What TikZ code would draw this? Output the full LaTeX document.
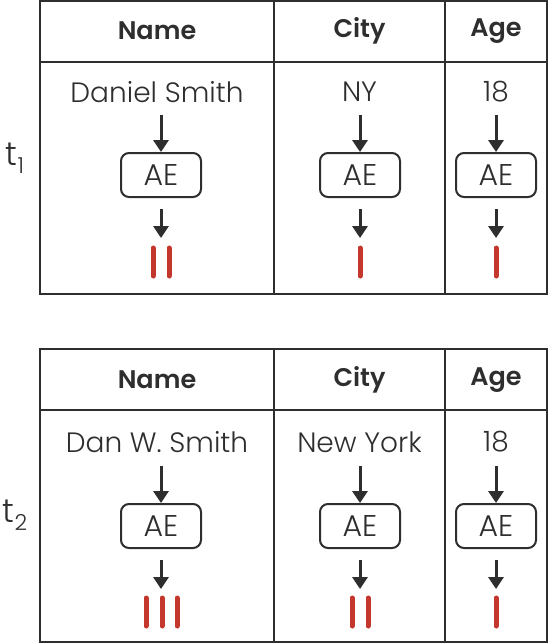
\documentclass[tikz,border=0pt]{standalone}
\usepackage{fontspec}
\IfFontExistsTF{Poppins Light}{\newfontfamily\valfont{Poppins Light}}{\newfontfamily\valfont{Poppins}}
\IfFontExistsTF{Poppins SemiBold}{\newfontfamily\headfont{Poppins SemiBold}}{\newfontfamily\headfont[BoldFont=*]{Poppins}}
\setmainfont{Poppins}
\usetikzlibrary{arrows.meta}
\definecolor{ink}{HTML}{2E2E2E}
\definecolor{barred}{HTML}{C4372C}
\begin{document}
\begin{tikzpicture}[x=1pt,y=-1pt,
  grid/.style={draw=ink,line width=2pt},
  head/.style={text=ink,font=\fontsize{25.5}{30}\headfont,inner sep=0pt},
  val/.style={text=ink,font=\fontsize{28}{32}\valfont,inner sep=0pt},
  aebox/.style={draw=ink,line width=2pt,rounded corners=8pt,minimum width=80pt,minimum height=44pt,text=ink,font=\fontsize{30}{34}\valfont,inner sep=0pt},
  arr/.style={draw=ink,line width=3pt,-{Triangle[length=12pt,width=15pt]}},
  bar/.style={draw=barred,line width=5pt,line cap=round},
  tlab/.style={text=ink,font=\fontsize{33}{36}\valfont,inner sep=0pt}]
\useasboundingbox (0,0) rectangle (549,643);
% ---- table 1
\draw[grid] (40,1) rectangle (547,294);
\draw[grid] (40,62) -- (547,62);
\draw[grid] (274,1) -- (274,294);
\draw[grid] (445,1) -- (445,294);
% ---- table 2
\draw[grid] (40,349) rectangle (547,642);
\draw[grid] (40,410) -- (547,410);
\draw[grid] (274,349) -- (274,642);
\draw[grid] (445,349) -- (445,642);
% headers
\node[head] (h1n) at (157,31) {Name};
\node[head] (h1c) at (359.5,31) {City};
\node[head] (h1a) at (496,31) {Age};
\node[head] (h2n) at (157,380) {Name};
\node[head] (h2c) at (359.5,380) {City};
\node[head] (h2a) at (496,380) {Age};
% t labels
\node[tlab] (t1) at (15,158) {t\raisebox{-8pt}{\fontsize{22}{24}\selectfont 1}};
\node[tlab] (t2) at (15,515) {t\raisebox{-8pt}{\fontsize{22}{24}\selectfont 2}};
% ---- row 1
\node[val] (v1n) at (157,92) {Daniel Smith};
\node[val] (v1c) at (359.5,92) {NY};
\node[val] (v1a) at (496,92) {18};
\node[aebox] (e1n) at (161,175) {AE};
\node[aebox] (e1c) at (360,175) {AE};
\node[aebox] (e1a) at (496,175) {AE};
\foreach \c/\x in {n/161,c/360,a/496}{
  \coordinate (s1\c) at (\x,115);
  \coordinate (b1\c) at (\x,238);
  \draw[arr] (s1\c) -- (e1\c.north);
}
\draw[arr] (e1n.south)+(0,11) -- (b1n);
\draw[arr] (e1c.south)+(0,11) -- (b1c);
\draw[arr] (e1a.south)+(0,11) -- (b1a);
\draw[bar] (153,248) -- (153,276);
\draw[bar] (169,248) -- (169,276);
\draw[bar] (360,248) -- (360,276);
\draw[bar] (496,248) -- (496,276);
% ---- row 2
\node[val] (v2n) at (157,442) {Dan W. Smith};
\node[val] (v2c) at (359.5,442) {New York};
\node[val] (v2a) at (496,442) {18};
\node[aebox] (e2n) at (161,526) {AE};
\node[aebox] (e2c) at (360,526) {AE};
\node[aebox] (e2a) at (496,526) {AE};
\foreach \c/\x in {n/161,c/360,a/496}{
  \coordinate (s2\c) at (\x,466);
  \coordinate (b2\c) at (\x,589);
  \draw[arr] (s2\c) -- (e2\c.north);
}
\draw[arr] (e2n.south)+(0,11) -- (b2n);
\draw[arr] (e2c.south)+(0,11) -- (b2c);
\draw[arr] (e2a.south)+(0,11) -- (b2a);
\draw[bar] (146,598) -- (146,626);
\draw[bar] (162,598) -- (162,626);
\draw[bar] (177,598) -- (177,626);
\draw[bar] (352,598) -- (352,626);
\draw[bar] (368,598) -- (368,626);
\draw[bar] (496,598) -- (496,626);
\end{tikzpicture}
\end{document}
